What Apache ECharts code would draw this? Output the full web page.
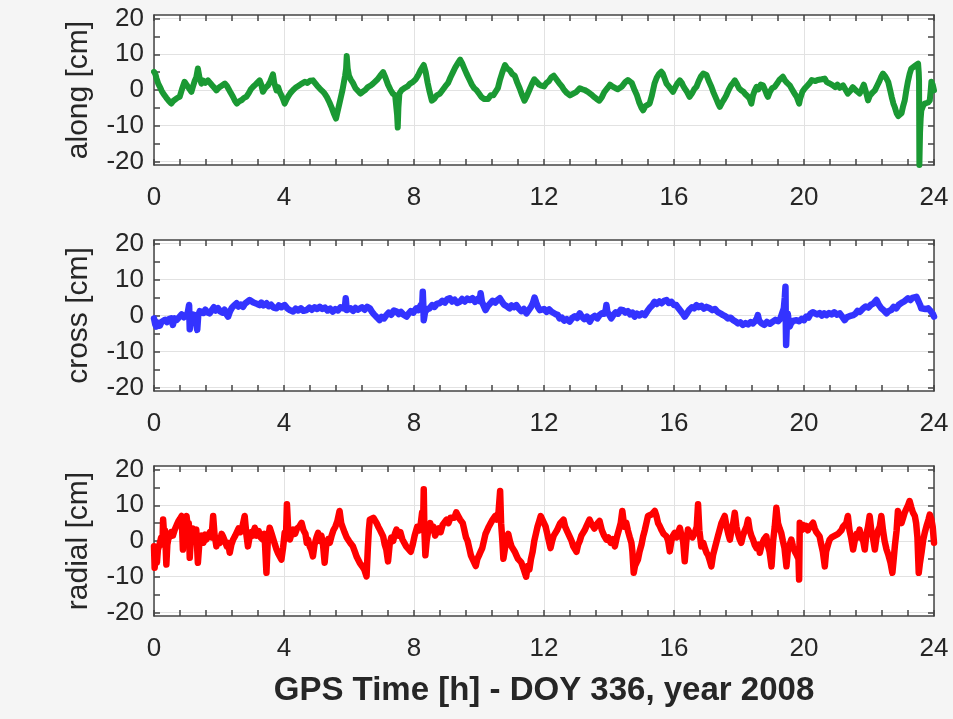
<!DOCTYPE html>
<html>
<head>
<meta charset="utf-8">
<script src="https://cdn.jsdelivr.net/npm/echarts@6/dist/echarts.min.js"></script>
<style>
  html, body { margin: 0; padding: 0; background: #f5f5f5; }
  #chart { width: 953px; height: 719px; }
</style>
</head>
<body>
<div id="chart"></div>
<script>
// [hour, cm]
const along = [
  [0, 5.1], [0.04, 4.5], [0.08, 3.2], [0.13, 1.8], [0.18, 0.9], [0.24, -0.3], [0.3, -1.2], [0.38, -2.2], [0.45, -3.0], [0.53, -3.8],
  [0.6, -3.0], [0.65, -2.6], [0.72, -2.2], [0.79, -1.9], [0.86, 0.2], [0.94, 2.3], [1.0, 1.5], [1.05, 0.8], [1.1, 1.3], [1.15, -0.5],
  [1.2, 1.0], [1.25, 2.5], [1.3, 3.5], [1.35, 6.0], [1.4, 3.5], [1.46, 1.8], [1.52, 2.6], [1.58, 2.0], [1.66, 2.7], [1.72, 2.2],
  [1.8, 1.2], [1.86, 0.6], [1.92, -0.1], [1.98, 0.5], [2.05, 1.0], [2.1, 0.6], [2.18, 1.8], [2.24, 1.2], [2.3, 0.2], [2.36, -0.8],
  [2.43, -1.9], [2.49, -3.0], [2.55, -3.8], [2.62, -3.2], [2.7, -2.8], [2.77, -2.2], [2.84, -1.9], [2.92, -0.8], [2.98, 0.2], [3.05, 0.9],
  [3.12, 1.5], [3.18, 1.2], [3.25, 2.7], [3.3, 1.5], [3.35, -0.5], [3.42, 0.5], [3.51, 1.3], [3.58, 2.5], [3.63, 3.0], [3.66, 4.4],
  [3.7, 2.0], [3.77, -0.1], [3.82, 0.8], [3.87, -0.6], [3.92, -1.5], [3.97, -2.5], [4.02, -3.8], [4.08, -2.6], [4.15, -1.5], [4.2, -0.8],
  [4.28, 0], [4.35, 0.6], [4.45, 1.2], [4.55, 1.8], [4.64, 2.3], [4.72, 2.0], [4.8, 2.6], [4.89, 2.7], [4.95, 2.0], [5.02, 1.2],
  [5.1, 0.4], [5.18, -0.3], [5.25, -1.0], [5.32, -2.0], [5.4, -3.5], [5.47, -5.0], [5.53, -6.5], [5.6, -8.0], [5.65, -6.0], [5.7, -4.0],
  [5.75, -2.0], [5.8, 0], [5.85, 2.5], [5.88, 4.0], [5.91, 6], [5.93, 9.5], [5.96, 6], [6.0, 4], [6.05, 3], [6.12, 2],
  [6.2, 0.5], [6.28, -0.3], [6.35, -1], [6.42, -0.5], [6.5, 0], [6.58, 0.8], [6.66, 1.2], [6.74, 1.8], [6.8, 2], [6.88, 3],
  [6.96, 4], [7.05, 5], [7.12, 3.5], [7.2, 1.5], [7.28, 0], [7.35, -1], [7.42, -1.5], [7.46, -2], [7.48, -7], [7.5, -10.5],
  [7.52, -5], [7.55, -1], [7.62, 0], [7.7, 0.5], [7.8, 1], [7.88, 1.8], [7.96, 2.2], [8.05, 3], [8.12, 4], [8.2, 5.5],
  [8.3, 7], [8.36, 5], [8.42, 2], [8.48, -0.5], [8.55, -3], [8.62, -2.5], [8.7, -1.5], [8.8, -1], [8.88, 0], [8.96, 1],
  [9.05, 2], [9.12, 3.5], [9.2, 5], [9.28, 6.5], [9.35, 7.5], [9.42, 8.5], [9.48, 7.5], [9.55, 6], [9.62, 4.5], [9.7, 3],
  [9.78, 1.5], [9.85, 0.5], [9.92, 0], [10.0, -1], [10.08, -2], [10.15, -2.5], [10.2, -3], [10.28, -2.5], [10.36, -1.5], [10.44, -1.5],
  [10.5, -1], [10.58, 0.5], [10.65, 3], [10.72, 5], [10.8, 7], [10.87, 6], [10.95, 5.5], [11.02, 4.5], [11.1, 4], [11.18, 2],
  [11.25, 0.5], [11.33, -1.5], [11.4, -3], [11.48, -1.5], [11.55, 0], [11.62, 1.5], [11.7, 3], [11.78, 2.2], [11.85, 1.5], [11.92, 1.2],
  [12.0, 1], [12.08, 2], [12.15, 2.5], [12.22, 3.5], [12.3, 4], [12.38, 3], [12.46, 2], [12.55, 1], [12.62, 0], [12.7, -0.8],
  [12.8, -1.5], [12.9, -1], [13.0, -0.5], [13.1, 0.5], [13.18, 0.2], [13.25, 0], [13.35, -0.5], [13.45, -1.2], [13.55, -2], [13.62, -2.5],
  [13.7, -3], [13.78, -2], [13.86, -0.5], [13.95, 0.5], [14.03, 1.5], [14.1, 1], [14.2, 0.5], [14.27, 0.2], [14.33, -0.1], [14.4, 1],
  [14.5, 2.2], [14.58, 2.8], [14.64, 3.2], [14.7, 2], [14.79, -0.1], [14.86, -1.5], [14.93, -3.5], [15.0, -5], [15.05, -5.7], [15.12, -4.5],
  [15.18, -4.8], [15.25, -3.8], [15.32, -1.5], [15.4, 1.8], [15.47, 3.5], [15.54, 4.5], [15.61, 5.1], [15.66, 4.5], [15.72, 3], [15.77, 1.8],
  [15.84, 1], [15.9, 0.5], [15.97, -0.5], [16.04, 0.8], [16.1, 1.8], [16.18, 2.7], [16.24, 2], [16.28, 1.2], [16.33, 0.4], [16.4, -0.5],
  [16.48, -1.9], [16.55, -1], [16.62, 0.2], [16.69, 0.9], [16.76, 2.5], [16.83, 3.8], [16.9, 4.6], [16.94, 5.1], [17.0, 4.2], [17.07, 2.5],
  [17.15, 0.9], [17.22, -0.8], [17.3, -2.5], [17.36, -3.8], [17.41, -4.7], [17.48, -3.5], [17.55, -2.5], [17.61, -1.5], [17.68, 0], [17.75, 1.2],
  [17.82, 2], [17.87, 2.7], [17.93, 1.8], [18.0, 0.5], [18.07, -0.1], [18.14, -0.5], [18.2, -1.2], [18.28, -1.9], [18.33, -2.5], [18.38, -3.8],
  [18.43, -1.5], [18.49, 0], [18.54, 0.9], [18.6, 0.2], [18.67, 1.5], [18.74, 1.3], [18.8, 0], [18.85, -1.2], [18.89, -1.9], [18.95, -0.5],
  [19.02, 0.5], [19.1, 0.9], [19.17, 1.8], [19.24, 2.8], [19.3, 3.2], [19.35, 3.7], [19.42, 2.6], [19.48, 2], [19.56, 1.3], [19.63, 0.2],
  [19.71, -1.0], [19.78, -2], [19.85, -3.8], [19.88, -2.5], [19.95, -0.5], [20.02, 0.4], [20.1, 1.2], [20.18, 2.0], [20.24, 2.8], [20.28, 3.2],
  [20.35, 2.5], [20.42, 2.8], [20.48, 2.3], [20.55, 3.0], [20.6, 2.6], [20.64, 3.2], [20.7, 2.2], [20.77, 1.9], [20.83, 1.5], [20.89, 1.3],
  [20.96, 0.8], [21.03, 1.5], [21.1, 0.6], [21.2, 1.3], [21.27, 0.2], [21.35, -1.0], [21.42, -0.3], [21.5, 0.8], [21.56, 0.4], [21.62, -0.3],
  [21.71, -1.0], [21.78, 0.2], [21.84, 1.5], [21.87, 1.3], [21.92, -1], [21.97, -2.9], [22.03, -1.5], [22.1, -0.8], [22.18, -0.1], [22.25, 1.2],
  [22.32, 2.5], [22.38, 3.8], [22.43, 4.6], [22.5, 3.8], [22.55, 3], [22.59, 2.3], [22.65, 0], [22.7, -2], [22.75, -3.8], [22.79, -4.7],
  [22.85, -6.5], [22.9, -7.3], [22.95, -7.6], [23.0, -6.5], [23.05, -4.5], [23.1, -2.9], [23.15, 0], [23.2, 2.5], [23.25, 4.5], [23.3, 6.0],
  [23.36, 6.4], [23.42, 6.8], [23.47, 7.2], [23.51, 7.4], [23.53, 5], [23.54, 2.7], [23.55, -21], [23.57, -12], [23.59, -8], [23.61, -5.7],
  [23.66, -4.5], [23.71, -3.8], [23.77, -4.2], [23.82, -3.5], [23.87, -2.9], [23.9, 0], [23.92, 2.3], [23.96, 1.5], [24, -0.1]
];

const cross = [
  [0, -0.8], [0.04, -2.5], [0.07, -3.1], [0.12, -2], [0.18, -2.8], [0.23, -1.8], [0.28, -2.2], [0.34, -1.2], [0.4, -1.8], [0.46, -1],
  [0.53, -0.8], [0.58, -2.6], [0.63, -0.8], [0.7, -1.2], [0.79, -0.3], [0.85, 0.3], [0.92, -0.5], [0.99, 0.1], [1.04, 0.8], [1.08, 2.9],
  [1.1, -3.8], [1.12, 0.5], [1.18, 0.9], [1.25, 0.1], [1.3, 0.5], [1.33, -4.0], [1.36, 0], [1.41, 1.2], [1.46, 1.5], [1.52, 0.7],
  [1.58, 1.6], [1.64, 0.9], [1.71, 0.6], [1.78, 1.5], [1.84, 2.3], [1.9, 1.4], [1.97, 2.0], [2.03, 1.2], [2.1, 0.8], [2.17, 1.6],
  [2.22, 0.5], [2.28, -0.3], [2.34, 1.2], [2.4, 2.2], [2.47, 2.8], [2.54, 3.4], [2.6, 2.5], [2.67, 3.0], [2.74, 2.4], [2.8, 3.3],
  [2.87, 3.8], [2.94, 4.3], [3.0, 4.8], [3.06, 3.6], [3.12, 4.0], [3.18, 3.2], [3.25, 2.9], [3.3, 3.6], [3.37, 2.8], [3.46, 3.4],
  [3.53, 2.6], [3.6, 3.0], [3.68, 2.2], [3.77, 2.0], [3.84, 2.8], [3.92, 2.3], [4.02, 2.9], [4.1, 2.0], [4.18, 1.5], [4.28, 1.1],
  [4.36, 1.9], [4.44, 1.4], [4.52, 2.0], [4.6, 1.3], [4.69, 1.5], [4.78, 2.2], [4.86, 1.6], [4.94, 2.3], [5.02, 1.8], [5.1, 2.4],
  [5.18, 1.8], [5.26, 2.2], [5.34, 1.4], [5.42, 1.9], [5.5, 1.1], [5.58, 1.8], [5.66, 1.4], [5.74, 2.3], [5.82, 2.0], [5.88, 2.8],
  [5.9, 4.8], [5.93, 1.5], [5.97, 1.1], [6.05, 2.0], [6.13, 1.3], [6.2, 2.1], [6.27, 1.6], [6.33, 1.5], [6.4, 2.3], [6.48, 1.6],
  [6.56, 2.4], [6.64, 2.0], [6.71, 1.0], [6.78, 0.2], [6.86, -0.5], [6.94, -1.3], [7.0, -0.4], [7.08, -0.8], [7.15, 0.1], [7.22, 0.8],
  [7.3, 0.2], [7.38, 1.4], [7.46, 1.1], [7.53, 0.4], [7.6, 1.0], [7.68, 0.2], [7.77, -0.3], [7.84, 0.6], [7.9, 1.2], [7.98, 0.8],
  [8.07, 2.0], [8.14, 1.5], [8.2, 2.8], [8.25, 2.2], [8.27, 6.6], [8.29, 2], [8.3, -1.3], [8.34, 1.0], [8.41, 1.8], [8.48, 2.0],
  [8.56, 2.9], [8.63, 2.4], [8.71, 3.3], [8.79, 3.4], [8.87, 4.1], [8.95, 3.6], [9.02, 4.5], [9.1, 4.8], [9.17, 3.9], [9.25, 4.4],
  [9.33, 3.5], [9.41, 3.8], [9.48, 4.6], [9.56, 3.9], [9.64, 4.7], [9.72, 4.3], [9.8, 4.8], [9.88, 3.8], [9.96, 4.6], [10.02, 4.0],
  [10.05, 6.2], [10.09, 3.8], [10.15, 2.6], [10.2, 1.5], [10.27, 2.6], [10.34, 3.3], [10.42, 4.1], [10.5, 3.6], [10.57, 4.3], [10.64, 4.8],
  [10.7, 3.9], [10.77, 3.0], [10.85, 2.6], [10.94, 2.0], [11.0, 2.8], [11.07, 2.3], [11.15, 2.9], [11.22, 2.0], [11.3, 1.2], [11.38, 1.8],
  [11.46, 0.6], [11.53, 1.5], [11.6, 2.4], [11.66, 3.5], [11.71, 5.0], [11.76, 3.6], [11.82, 2.2], [11.87, 1.5], [11.92, 1.1], [12.0, 1.8],
  [12.08, 1.0], [12.16, 1.7], [12.22, 1.1], [12.28, 1.5], [12.35, 0.4], [12.42, 0.2], [12.48, -0.8], [12.55, -0.6], [12.62, -1.4], [12.7, -1.0],
  [12.79, -1.7], [12.87, -0.7], [12.95, -0.2], [13.02, -0.7], [13.1, 0.6], [13.17, -0.4], [13.24, -1.0], [13.32, -0.3], [13.41, -1.7], [13.48, -0.6],
  [13.56, -0.1], [13.64, -0.8], [13.71, 0.1], [13.78, 0.6], [13.85, 0.5], [13.9, 1.6], [13.92, 2.9], [13.95, 1.0], [14.0, 0.3], [14.07, -0.8],
  [14.14, 0.2], [14.21, 0.9], [14.28, 0.5], [14.36, 1.6], [14.43, 1.5], [14.5, 0.8], [14.58, 1.2], [14.65, 0.3], [14.72, 0.8], [14.79, -0.3],
  [14.86, 0.5], [14.94, 0.0], [15.02, 0.6], [15.1, 0.1], [15.18, 1.2], [15.26, 2.2], [15.33, 2.8], [15.4, 3.8], [15.47, 3.2], [15.55, 3.9],
  [15.62, 3.4], [15.7, 4.1], [15.77, 4.3], [15.84, 3.5], [15.92, 3.8], [16.0, 2.9], [16.07, 2.9], [16.14, 2.0], [16.2, 1.3], [16.27, 0.5],
  [16.33, -0.3], [16.4, 0.6], [16.47, 1.6], [16.55, 2.3], [16.62, 2.0], [16.69, 2.9], [16.76, 2.3], [16.84, 2.7], [16.92, 1.9], [17.0, 2.4],
  [17.1, 2.0], [17.18, 1.5], [17.26, 1.8], [17.34, 1.0], [17.42, 0.6], [17.51, 0.1], [17.58, -0.2], [17.66, -0.8], [17.74, -0.6], [17.82, -1.3],
  [17.9, -1.7], [17.97, -2.2], [18.04, -1.9], [18.12, -2.6], [18.2, -2.1], [18.28, -2.5], [18.36, -1.8], [18.43, -2.2], [18.5, -1.5], [18.55, -0.8],
  [18.58, 0.1], [18.62, -1.5], [18.7, -2.2], [18.78, -2.6], [18.86, -1.8], [18.95, -2.3], [19.04, -1.7], [19.12, -1.2], [19.2, -1.6], [19.27, -0.9],
  [19.33, -0.5], [19.38, 2], [19.41, 5], [19.43, 8.0], [19.44, -2], [19.45, -8.2], [19.47, -3], [19.5, 0.5], [19.53, -1.5], [19.56, -3.1],
  [19.6, -2.2], [19.66, -1.5], [19.72, -2.0], [19.77, -1.3], [19.85, -1.6], [19.93, -0.9], [20.0, -1.3], [20.07, -0.3], [20.14, -0.6], [20.2, 0.5],
  [20.27, 0.9], [20.33, 1.1], [20.4, 0.3], [20.48, 0.7], [20.55, 0.0], [20.62, 0.6], [20.69, 0.1], [20.77, 0.7], [20.85, 0.3], [20.93, 0.9],
  [21.02, 0.2], [21.1, 0.6], [21.18, -0.4], [21.25, -1.3], [21.32, -0.5], [21.4, -0.2], [21.46, -0.7], [21.51, 0.1], [21.58, 0.5], [21.65, 1.3],
  [21.72, 1.0], [21.82, 2.0], [21.9, 2.5], [21.98, 2.2], [22.06, 3.0], [22.13, 3.3], [22.18, 3.5], [22.23, 4.3], [22.3, 3.0], [22.38, 2.0],
  [22.46, 1.4], [22.54, 0.6], [22.6, 1.2], [22.68, 1.5], [22.76, 2.4], [22.84, 2.0], [22.92, 3.0], [23.0, 3.5], [23.08, 3.9], [23.14, 4.2],
  [23.2, 4.8], [23.27, 4.3], [23.34, 4.9], [23.4, 4.4], [23.46, 5.2], [23.52, 4.0], [23.57, 3.0], [23.61, 2.0], [23.67, 2.5], [23.74, 1.8],
  [23.82, 2.0], [23.9, 1.2], [23.96, 0.5], [24, -0.3]
];

const radial = [
  [0, -1.5], [0.02, -7.5], [0.06, -4], [0.09, -6], [0.12, -2.4], [0.17, -1], [0.22, 1], [0.26, -1], [0.28, 6.0], [0.31, 2],
  [0.34, 3], [0.38, -6.6], [0.41, -1], [0.44, 0.5], [0.48, 1.3], [0.53, 2.5], [0.58, 1.5], [0.64, 3.2], [0.7, 4.5], [0.75, 5.5],
  [0.8, 6.2], [0.85, 7.0], [0.89, -2.4], [0.92, 5], [0.96, 6], [1.0, 7.0], [1.04, 4], [1.07, 5], [1.1, -4.7], [1.14, 2],
  [1.2, 3.5], [1.25, 2.5], [1.3, 3.2], [1.35, -6.1], [1.4, 0], [1.46, 1.5], [1.52, -0.5], [1.57, 1.8], [1.61, 0.4], [1.67, 1.5],
  [1.72, 2.5], [1.77, 1], [1.82, 7.0], [1.86, 2], [1.92, -1.5], [1.97, 0.5], [2.03, -0.5], [2.08, 2], [2.12, 1.3], [2.18, 0],
  [2.24, -1.5], [2.28, -0.5], [2.33, -3.3], [2.38, -1], [2.44, 0.5], [2.5, 1.5], [2.54, 2.3], [2.6, 3.5], [2.66, 2.5], [2.72, 4],
  [2.79, 7.0], [2.84, 2], [2.89, -1.5], [2.94, 1], [3.0, 2.5], [3.05, 1.5], [3.1, 3.7], [3.16, 1.5], [3.22, 2.8], [3.28, 1],
  [3.35, 0.4], [3.4, 2], [3.46, -8.9], [3.5, 0], [3.56, 3.7], [3.62, 2], [3.67, 0.5], [3.72, 1], [3.77, -2.4], [3.82, -3.5],
  [3.87, -4], [3.92, -5.2], [3.97, -2], [4.02, 2.3], [4.06, 1], [4.09, 10.3], [4.13, 3], [4.18, 0.4], [4.23, 2], [4.28, 3.2],
  [4.34, 2], [4.4, 3.5], [4.47, 4], [4.54, 5.1], [4.6, 3], [4.66, 2], [4.7, -0.5], [4.74, 0.4], [4.79, -1.5], [4.84, -2.5],
  [4.89, -4.3], [4.94, -1], [5.0, 1], [5.05, 2.3], [5.1, 0], [5.15, 1.5], [5.2, -1], [5.25, -6.1], [5.3, -1], [5.36, 0.5],
  [5.41, -0.5], [5.46, 1.3], [5.52, 3], [5.58, 4], [5.64, 5.5], [5.71, 8.4], [5.76, 5], [5.82, 3.5], [5.87, 2.3], [5.93, 1],
  [6.0, 0], [6.06, -0.8], [6.12, -1.5], [6.18, -3], [6.24, -4.5], [6.29, -5], [6.33, -6.1], [6.4, -7], [6.47, -8], [6.54, -9.9],
  [6.58, -2], [6.61, 3], [6.64, 6.0], [6.7, 5.5], [6.75, 6.5], [6.79, 7.0], [6.85, 5], [6.9, 4], [6.96, 3], [7.05, 1.3],
  [7.1, -1], [7.15, -2.5], [7.2, -5.7], [7.25, -1], [7.3, 1], [7.36, 0], [7.41, 2], [7.46, 3.2], [7.52, 1.5], [7.58, 2.5],
  [7.64, 0.5], [7.7, 0], [7.76, -1.5], [7.82, -2], [7.9, -3], [7.96, -1], [8.02, 1.5], [8.1, 4], [8.16, 3], [8.21, 5],
  [8.25, 8], [8.28, 5], [8.3, 14.5], [8.32, 3], [8.35, -4], [8.39, 0], [8.44, 3], [8.5, 5], [8.55, 3], [8.6, 4],
  [8.65, 1.5], [8.7, 2], [8.76, 3.5], [8.82, 2.5], [8.88, 4.5], [8.94, 5], [9.0, 6], [9.06, 5], [9.12, 6.5], [9.18, 7],
  [9.24, 6.5], [9.3, 8], [9.36, 7], [9.42, 6], [9.5, 5], [9.55, 3], [9.6, 1], [9.65, 0], [9.7, -2], [9.75, -4],
  [9.8, -5], [9.85, -6], [9.9, -7], [9.95, -5], [10.0, -4], [10.05, -3], [10.1, -2], [10.15, 0], [10.2, 2], [10.25, 3],
  [10.3, 4], [10.36, 5], [10.42, 6], [10.47, 5.5], [10.5, 7], [10.55, 6], [10.6, 8], [10.65, 14], [10.68, 5], [10.72, 0],
  [10.75, -5], [10.8, -2], [10.85, 1], [10.9, 2], [10.95, 0], [11.0, -1.5], [11.05, -2], [11.1, -3], [11.15, -4], [11.2, -5],
  [11.25, -4.5], [11.3, -6], [11.36, -7.5], [11.41, -8], [11.45, -10], [11.5, -7], [11.55, -8], [11.6, -5], [11.65, -3], [11.7, 0],
  [11.75, 2], [11.8, 4], [11.85, 5.5], [11.9, 7], [11.95, 6], [12.0, 5], [12.05, 4], [12.1, 2], [12.15, 0], [12.2, -2],
  [12.25, 0], [12.3, 1.5], [12.35, 2], [12.4, 3], [12.45, 4], [12.5, 5], [12.55, 5.5], [12.6, 6], [12.65, 4], [12.7, 3],
  [12.75, 2], [12.8, 1], [12.85, 0], [12.9, -1.5], [12.95, -2], [13.0, -3], [13.05, -1], [13.1, 0], [13.15, 1.5], [13.2, 2],
  [13.25, 3], [13.3, 4], [13.35, 5], [13.4, 6], [13.45, 5], [13.5, 4.5], [13.55, 3.5], [13.6, 4], [13.65, 5], [13.71, 5.6],
  [13.78, 3], [13.85, 1.5], [13.92, 0.4], [13.98, 1], [14.05, -0.5], [14.12, 0.5], [14.18, -1.5], [14.24, 1], [14.3, 3], [14.36, 5],
  [14.41, 8.4], [14.47, 4], [14.53, 5.1], [14.58, 3], [14.64, 1], [14.69, -0.5], [14.72, -3], [14.76, -8.9], [14.8, -7], [14.85, -6],
  [14.89, -5.2], [14.94, -3], [15.0, -1], [15.05, 1.3], [15.1, 3], [15.15, 5], [15.2, 7.0], [15.26, 6.5], [15.32, 7.5], [15.37, 8],
  [15.41, 8.4], [15.46, 7], [15.51, 5], [15.56, 4.2], [15.62, 3], [15.68, 2], [15.72, 2.5], [15.77, 1.3], [15.82, 0], [15.87, -2.9],
  [15.92, 0], [15.97, 1.5], [16.02, 2.3], [16.08, 1], [16.13, 2.5], [16.18, 3.7], [16.23, 1.5], [16.28, 0], [16.33, -5.7], [16.38, 0],
  [16.43, 3.2], [16.5, 2], [16.57, 1], [16.64, 2.3], [16.7, 4], [16.74, 10.3], [16.78, 3], [16.84, -1.5], [16.9, -0.5], [16.95, -2],
  [17.0, -3.3], [17.05, -4], [17.1, -5.5], [17.15, -7.1], [17.2, -4], [17.27, -1.5], [17.35, 1.3], [17.4, 3], [17.46, 5], [17.51, 6],
  [17.56, 7.0], [17.62, 4], [17.67, 2], [17.72, 0.4], [17.77, 3], [17.82, 5], [17.87, 7.9], [17.92, 4], [17.97, 2], [18.02, 0.5],
  [18.07, -0.5], [18.12, 1.5], [18.18, 3], [18.23, 4], [18.28, 6.0], [18.33, 3], [18.38, 1.5], [18.43, 0.4], [18.48, -1], [18.54, -2],
  [18.6, -1], [18.64, -3.3], [18.7, -1], [18.77, 0.5], [18.84, 1.3], [18.88, -1], [18.94, -3], [19.0, -7.1], [19.05, 0], [19.1, 4],
  [19.15, 9.3], [19.2, 5], [19.25, 3.5], [19.3, 2.3], [19.35, 0], [19.4, -2], [19.46, -7.1], [19.5, -3], [19.56, -1], [19.61, 0.4],
  [19.66, -1.5], [19.72, -3], [19.78, -4], [19.83, -5], [19.85, -10.8], [19.87, 5.1], [19.92, 3], [19.97, 4.5], [20.02, 3.5], [20.07, 4.2],
  [20.12, 3], [20.18, 4], [20.23, 4.5], [20.28, 5.1], [20.33, 3.5], [20.38, 2.5], [20.43, 2], [20.48, 1.3], [20.53, -1], [20.58, -3],
  [20.64, -7.1], [20.68, -3], [20.74, -1], [20.79, 0.4], [20.85, 1], [20.9, 0.5], [20.95, 1.5], [21.0, 1], [21.05, 2], [21.1, 2.3],
  [21.15, 3], [21.2, 4], [21.25, 4], [21.3, 5], [21.35, 7.0], [21.4, 3], [21.45, 1], [21.51, -2.4], [21.56, 0], [21.62, 2],
  [21.66, 1], [21.71, 3.2], [21.76, 1], [21.82, 0], [21.87, -2.4], [21.92, 2], [21.97, 4], [22.02, 7.0], [22.07, 3], [22.12, 1],
  [22.18, -2.4], [22.23, 1], [22.28, 3], [22.33, 4], [22.38, 7.0], [22.43, 3], [22.48, 0], [22.54, -2.4], [22.6, -4], [22.66, -6],
  [22.72, -8.9], [22.76, -5], [22.8, -1], [22.85, 3], [22.89, 8.4], [22.95, 6], [23.0, 5], [23.05, 6.5], [23.1, 8], [23.15, 9],
  [23.2, 10], [23.25, 11.2], [23.3, 9.5], [23.35, 8], [23.41, 7.0], [23.45, 5], [23.49, 1], [23.53, -8.9], [23.57, -6], [23.62, -3],
  [23.67, 0.4], [23.72, 2.5], [23.78, 4.5], [23.83, 6], [23.87, 7.4], [23.92, 6], [23.96, 4], [24, -0.5]
];

const panelNames = ['along [cm]', 'cross [cm]', 'radial [cm]'];
const panelData = [along, cross, radial];
const panelColors = ['#1a9933', '#3333ff', '#ff0000'];
const lineWidths = [6, 6.5, 6.5];
const yTickValues = [-20, -15, -10, -5, 0, 5, 10, 15, 20];
const yLabelValues = [-20, -10, 0, 10, 20];
const xTitle = 'GPS Time [h] - DOY 336, year 2008';

const tops = [15, 240, 466];
const heights = [150, 151, 150];
const ink = '#262626';
const frame = { color: '#444', width: 1.5 };
const gridColor = '#e2e2e2';
const font = 'Liberation Sans, Arial, sans-serif';

const grid = [], xAxis = [], yAxis = [], series = [];

panelNames.forEach((name, i) => {
  grid.push({ left: 154, top: tops[i], width: 780, height: heights[i], show: true, backgroundColor: '#fff', borderWidth: 0 });

  const xBase = {
    gridIndex: i, type: 'value', min: 0, max: 24, interval: 4,
    axisLine: { show: true, onZero: false, lineStyle: frame },
    axisTick: { show: true, inside: true, length: 6, lineStyle: frame },
    minorTick: { show: true, splitNumber: 5, length: 6, lineStyle: frame },
  };
  xAxis.push({
    ...xBase, position: 'bottom',
    splitLine: { show: true, lineStyle: { color: gridColor, width: 1 } },
    axisLabel: { show: true, fontSize: 26, margin: 20, color: ink, fontFamily: font },
    ...(i === 2 ? {
      name: xTitle, nameLocation: 'middle', nameGap: 58,
      nameTextStyle: { fontSize: 33, fontWeight: 'bold', color: ink, fontFamily: font },
    } : {}),
  });
  xAxis.push({ ...xBase, position: 'top', splitLine: { show: false }, axisLabel: { show: false } });

  const yBase = {
    gridIndex: i, type: 'value', min: -21, max: 21,
    axisLine: { show: true, onZero: false, lineStyle: frame },
    axisTick: { show: true, inside: true, length: 6, lineStyle: frame, customValues: yTickValues },
    splitLine: { show: false },
  };
  yAxis.push({
    ...yBase, position: 'left',
    axisLabel: { show: true, fontSize: 26, margin: 10, color: ink, fontFamily: font, customValues: yLabelValues },
    name, nameLocation: 'middle', nameRotate: 90, nameGap: 60,
    nameTextStyle: { fontSize: 30, color: ink, fontFamily: font },
  });
  yAxis.push({ ...yBase, position: 'right', axisLabel: { show: false } });
  // grid lines only
  yAxis.push({
    gridIndex: i, type: 'value', min: -21, max: 21, position: 'left',
    axisLine: { show: false },
    axisTick: { show: false, customValues: yLabelValues },
    axisLabel: { show: false },
    splitLine: { show: true, lineStyle: { color: gridColor, width: 1 } },
  });

  series.push({
    type: 'line', xAxisIndex: i * 2, yAxisIndex: i * 3,
    data: panelData[i], showSymbol: false, clip: true,
    lineStyle: { color: panelColors[i], width: lineWidths[i], join: 'round', cap: 'round' },
    z: 3,
  });
});

const chart = echarts.init(document.getElementById('chart'));
chart.setOption({
  backgroundColor: '#f5f5f5',
  animation: false,
  grid, xAxis, yAxis, series,
});
</script>
</body>
</html>
